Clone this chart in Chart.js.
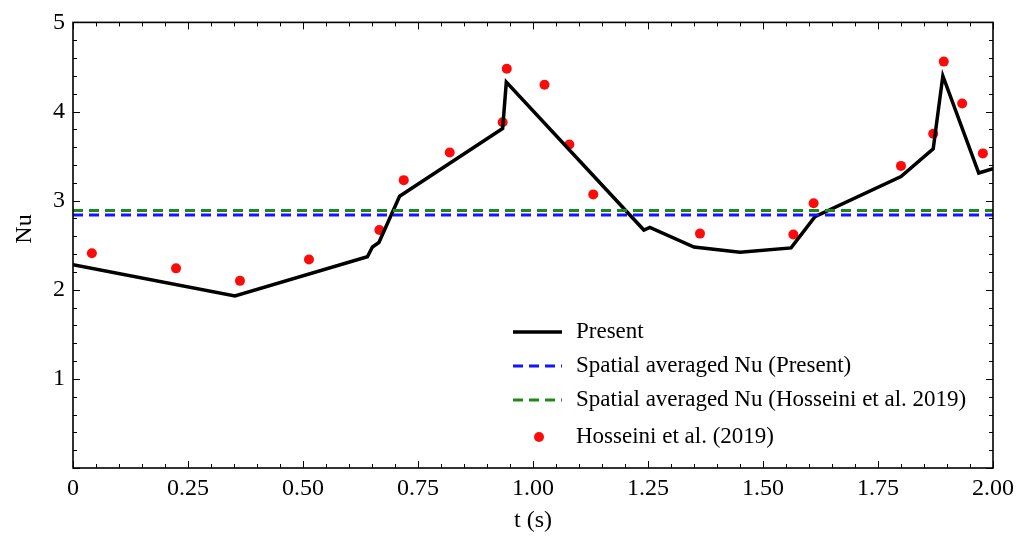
<!DOCTYPE html>
<html>
<head>
<meta charset="utf-8">
<title>Nu vs t</title>
<script src="https://cdn.jsdelivr.net/npm/chart.js@4.4.1/dist/chart.umd.min.js"></script>
<style>
  html, body { margin: 0; padding: 0; background: #ffffff; }
  #wrap { position: relative; width: 1032px; height: 537px; }
</style>
</head>
<body>
<div id="wrap"><canvas id="chart" width="1032" height="537"></canvas></div>
<script>
// Time-resolved Nusselt number, present simulation
const presentT  = [0, 0.352, 0.640, 0.651, 0.665, 0.710, 0.934, 0.942, 1.241, 1.254, 1.350, 1.450, 1.561, 1.613, 1.800, 1.870, 1.891, 1.969, 2.000];
const presentNu = [2.28, 1.93, 2.37, 2.48, 2.53, 3.05, 3.81, 4.33, 2.67, 2.70, 2.48, 2.42, 2.47, 2.82, 3.27, 3.58, 4.40, 3.31, 3.36];

// Hosseini et al. (2019) reference points
const refT  = [0.041, 0.224, 0.363, 0.513, 0.666, 0.719, 0.819, 0.934, 0.943, 1.025, 1.079, 1.131, 1.363, 1.566, 1.610, 1.800, 1.870, 1.893, 1.933, 1.978];
const refNu = [2.41, 2.24, 2.10, 2.34, 2.67, 3.23, 3.54, 3.88, 4.48, 4.30, 3.63, 3.07, 2.63, 2.62, 2.97, 3.39, 3.75, 4.56, 4.09, 3.53];

// Spatial averages
const avgNuPresent = 2.84;
const avgNuRef = 2.89;

// Axis ticks
const xTickValues = [0, 0.25, 0.5, 0.75, 1.0, 1.25, 1.5, 1.75, 2.0];
const xTickLabels = ['0', '0.25', '0.50', '0.75', '1.00', '1.25', '1.50', '1.75', '2.00'];
const yTickValues = [1, 2, 3, 4, 5];
const yTickLabels = ['1', '2', '3', '4', '5'];

const seriesLabels = ['Present', 'Spatial averaged Nu (Present)', 'Spatial averaged Nu (Hosseini et al. 2019)', 'Hosseini et al. (2019)'];

const SERIF = '"Liberation Serif", "Times New Roman", Times, serif';
const BLUE = '#1414ff';
const GREEN = '#1a8a1a';
const RED = '#ff0a0a';

const toPoints = (xs, ys) => xs.map((x, i) => ({ x: x, y: ys[i] }));
const flatLine = (v) => [{ x: 0, y: v }, { x: 2, y: v }];

// Frame with inward major/minor ticks on all four sides
const frameTicks = {
  id: 'frameTicks',
  afterDatasetsDraw(chart) {
    const { ctx, chartArea: a, scales: { x, y } } = chart;
    ctx.save();
    ctx.strokeStyle = '#000';
    ctx.lineWidth = 1;
    const seg = (x1, y1, x2, y2) => { ctx.beginPath(); ctx.moveTo(x1, y1); ctx.lineTo(x2, y2); ctx.stroke(); };
    for (let i = 0; i <= 40; i++) {
      const v = i * 0.05;
      const px = Math.round(x.getPixelForValue(v)) + 0.5;
      const len = (i % 5 === 0) ? 7 : 4;
      seg(px, a.bottom, px, a.bottom - len);
      seg(px, a.top, px, a.top + len);
    }
    for (let i = 0; i <= 25; i++) {
      const v = i * 0.2;
      const py = Math.round(y.getPixelForValue(v)) + 0.5;
      const len = (i % 5 === 0) ? 7 : 4;
      seg(a.left, py, a.left + len, py);
      seg(a.right, py, a.right - len, py);
    }
    ctx.lineWidth = 1.6;
    ctx.strokeRect(a.left, a.top, a.right - a.left, a.bottom - a.top);
    ctx.restore();
  },
  afterDraw(chart) {
    const { ctx, chartArea: a } = chart;
    ctx.save();
    ctx.fillStyle = '#000';
    // axis titles
    ctx.font = '24px ' + SERIF;
    ctx.textAlign = 'center';
    ctx.textBaseline = 'middle';
    ctx.fillText('t (s)', (a.left + a.right) / 2, 521);
    ctx.translate(25, 229);
    ctx.rotate(-Math.PI / 2);
    ctx.fillText('Nu', 0, 0);
    ctx.restore();

    // legend
    ctx.save();
    const rows = [332, 366, 400, 437];
    const x0 = 513, x1 = 562, tx = 576;
    ctx.lineCap = 'butt';
    ctx.strokeStyle = '#000'; ctx.lineWidth = 3.5;
    ctx.beginPath(); ctx.moveTo(x0, rows[0]); ctx.lineTo(x1, rows[0]); ctx.stroke();
    ctx.lineWidth = 3; ctx.setLineDash([10, 6]);
    ctx.strokeStyle = BLUE;
    ctx.beginPath(); ctx.moveTo(x0, rows[1]); ctx.lineTo(x1, rows[1]); ctx.stroke();
    ctx.strokeStyle = GREEN;
    ctx.beginPath(); ctx.moveTo(x0, rows[2]); ctx.lineTo(x1, rows[2]); ctx.stroke();
    ctx.setLineDash([]);
    ctx.fillStyle = RED;
    ctx.beginPath(); ctx.arc(539, rows[3], 5, 0, Math.PI * 2); ctx.fill();
    ctx.fillStyle = '#000';
    ctx.font = '23px ' + SERIF;
    ctx.textAlign = 'left';
    ctx.textBaseline = 'middle';
    seriesLabels.forEach((t, i) => ctx.fillText(t, tx, rows[i]));
    ctx.restore();
  }
};

new Chart(document.getElementById('chart'), {
  type: 'scatter',
  data: {
    datasets: [
      {
        label: seriesLabels[0],
        data: toPoints(presentT, presentNu),
        showLine: true, borderColor: '#000', borderWidth: 3.5,
        pointRadius: 0, pointHoverRadius: 0, tension: 0, order: 2
      },
      {
        label: seriesLabels[1],
        data: flatLine(avgNuPresent),
        showLine: true, borderColor: BLUE, borderWidth: 3, borderDash: [10, 6],
        pointRadius: 0, pointHoverRadius: 0, order: 1
      },
      {
        label: seriesLabels[2],
        data: flatLine(avgNuRef),
        showLine: true, borderColor: GREEN, borderWidth: 3, borderDash: [10, 6],
        pointRadius: 0, pointHoverRadius: 0, order: 0
      },
      {
        label: seriesLabels[3],
        data: toPoints(refT, refNu),
        showLine: false, backgroundColor: RED, borderColor: RED, borderWidth: 0,
        pointRadius: 5, pointHoverRadius: 5, order: 3
      }
    ]
  },
  options: {
    responsive: false,
    animation: false,
    events: [],
    layout: { padding: { left: 0, top: 19, right: 39, bottom: 0 } },
    plugins: { legend: { display: false }, tooltip: { enabled: false } },
    scales: {
      x: {
        type: 'linear', min: 0, max: 2,
        grid: { display: false, drawTicks: false },
        border: { display: false },
        afterFit(scale) { scale.height = 69; },
        afterBuildTicks(scale) { scale.ticks = xTickValues.map(v => ({ value: v })); },
        ticks: {
          color: '#000', padding: 6, maxRotation: 0, autoSkip: false,
          font: { family: SERIF, size: 24 },
          callback: (v) => { const i = xTickValues.findIndex(t => Math.abs(t - v) < 1e-9); return i >= 0 ? xTickLabels[i] : ''; }
        }
      },
      y: {
        type: 'linear', min: 0, max: 5,
        grid: { display: false, drawTicks: false },
        border: { display: false },
        afterFit(scale) { scale.width = 73; },
        afterBuildTicks(scale) { scale.ticks = yTickValues.map(v => ({ value: v })); },
        ticks: {
          color: '#000', padding: 8, autoSkip: false,
          font: { family: SERIF, size: 24 },
          callback: (v) => { const i = yTickValues.findIndex(t => Math.abs(t - v) < 1e-9); return i >= 0 ? yTickLabels[i] : ''; }
        }
      }
    }
  },
  plugins: [frameTicks]
});
</script>
</body>
</html>
